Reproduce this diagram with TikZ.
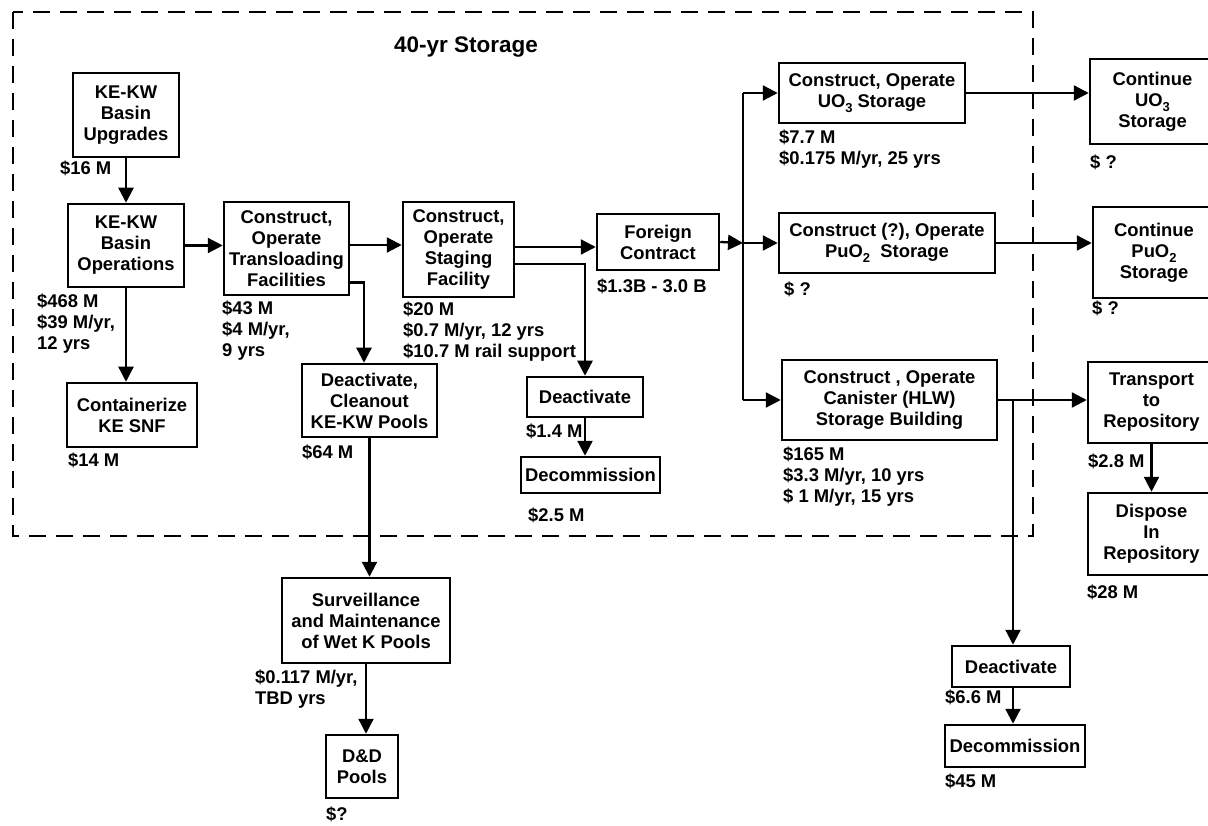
\documentclass[tikz,border=0pt]{standalone}
\usepackage{fontspec}
\setmainfont{Liberation Sans}
\usetikzlibrary{arrows.meta}
\newcommand\sbs[1]{\raisebox{-0.5ex}{\fontsize{13}{13}\selectfont #1}}
\begin{document}
\begin{tikzpicture}[x=1pt,y=-1pt,
  every node/.style={font=\fontsize{18.4}{21}\selectfont\bfseries},
  box/.style={draw, line width=2.5pt, align=center, inner sep=1pt},
  lbl/.style={anchor=north west, align=left, inner sep=0pt},
  arr/.style={line width=2.3pt, -{Triangle[length=15pt,width=15pt]}},
  ln/.style={line width=2.3pt},
  frame/.style={line width=2.6pt, dash pattern=on 17pt off 10pt}]
\useasboundingbox (0,0) rectangle (1208,826);
\fill[white] (0,0) rectangle (1208,826);

% dashed region
\draw[frame] (13,12) rectangle (1033,536);
\node[font=\fontsize{22.5}{26}\selectfont\bfseries] (title) at (466,47) {40-yr Storage};

% boxes
\node[box, minimum width=106pt, minimum height=84pt] (upg) at (126,115) {KE-KW\\Basin\\Upgrades};
\node[box, minimum width=116pt, minimum height=83pt] (ops) at (126,245.5) {KE-KW\\Basin\\Operations};
\node[box, minimum width=125pt, minimum height=93pt] (trans) at (286.5,248.5) {Construct,\\Operate\\Transloading\\Facilities};
\node[box, minimum width=111pt, minimum height=95pt] (stag) at (458.5,249.5) {Construct,\\Operate\\Staging\\Facility};
\node[box, minimum width=122pt, minimum height=56pt] (fc) at (658,242) {Foreign\\Contract};
\node[box, minimum width=130pt, minimum height=64pt] (cont) at (132,415) {Containerize\\KE SNF};
\node[box, minimum width=135pt, minimum height=73pt] (clean) at (369.5,400.5) {Deactivate,\\Cleanout\\KE-KW Pools};
\node[box, minimum width=116pt, minimum height=40pt] (deac1) at (585,397) {Deactivate};
\node[box, minimum width=139pt, minimum height=36pt] (decom1) at (590.5,475) {Decommission};
\node[box, minimum width=168pt, minimum height=85pt] (surv) at (366,620.5) {Surveillance\\and Maintenance\\of Wet K Pools};
\node[box, minimum width=72pt, minimum height=63pt] (dd) at (362,766.5) {D\&D\\Pools};
\node[box, minimum width=186pt, minimum height=60pt] (uo3) at (872,93) {Construct, Operate\\UO\sbs{3} Storage};
\node[box, minimum width=216pt, minimum height=60pt] (puo2) at (887,243) {Construct (?), Operate\\PuO\sbs{2}\ \ Storage};
\node[box, minimum width=215pt, minimum height=80pt] (hlw) at (889.5,400) {Construct , Operate\\Canister (HLW)\\Storage Building};
\node[box, minimum width=125pt, minimum height=85pt] (cuo3) at (1152.5,101.5) {Continue\\UO\sbs{3}\\Storage};
\node[box, minimum width=122pt, minimum height=91pt] (cpuo2) at (1154,252.5) {Continue\\PuO\sbs{2}\\Storage};
\node[box, minimum width=127pt, minimum height=81pt] (trp) at (1151.5,402.5) {Transport\\to\\Repository};
\node[box, minimum width=127pt, minimum height=82pt] (disp) at (1151.5,534) {Dispose\\In\\Repository};
\node[box, minimum width=118pt, minimum height=41pt] (deac2) at (1011,666.5) {Deactivate};
\node[box, minimum width=140pt, minimum height=42pt] (decom2) at (1015,746) {Decommission};

% junctions
\coordinate (jn) at (743,243);
\coordinate (jb) at (1013,400);

% connectors
\draw[arr] (upg.south) -- (ops.north);
\draw[arr] (ops.east) -- (ops.east -| trans.west);
\draw[arr] (ops.south) -- (ops.south |- cont.north);
\draw[arr] ([yshift=3.5pt]trans.east) -- ([yshift=3.5pt]trans.east -| stag.west);
\draw[arr] ([yshift=-34pt]trans.east) -| ([xshift=-5.5pt]clean.north);
\draw[arr] ([yshift=-5pt]fc.west -| stag.east) -- ([yshift=-5pt]fc.west);
\draw[arr] ([yshift=-14.5pt]stag.east) -| (deac1.north);
\draw[arr] (deac1.south) -- (deac1.south |- decom1.north);
\draw[arr] (clean.south) -- (clean.south |- surv.north);
\draw[arr] (surv.south) -- (surv.south |- dd.north);
\draw[arr] (fc.east) -- (jn);
\draw[ln] (jn |- uo3.west) -- (jn |- hlw.west);
\draw[arr] (jn |- uo3.west) -- (uo3.west);
\draw[arr] (jn) -- (jn -| puo2.west);
\draw[arr] (jn |- hlw.west) -- (hlw.west);
\draw[arr] (uo3.east) -- (uo3.east -| cuo3.west);
\draw[arr] (puo2.east) -- (puo2.east -| cpuo2.west);
\draw[arr] (hlw.east) -- (hlw.east -| trp.west);
\draw[arr] (jb) -- (jb |- deac2.north);
\draw[arr] (deac2.south -| jb) -- (jb |- decom2.north);
\draw[arr] (trp.south) -- (disp.north);

% cost labels
\node[lbl] (l1) at (60,161) {\$16 M};
\node[lbl] (l2) at (37,294) {\$468 M\\\$39 M/yr,\\12 yrs};
\node[lbl] (l3) at (68,453) {\$14 M};
\node[lbl] (l4) at (222,301) {\$43 M\\\$4 M/yr,\\9 yrs};
\node[lbl] (l5) at (403,302) {\$20 M\\\$0.7 M/yr, 12 yrs\\\$10.7 M rail support};
\node[lbl] (l6) at (302,445) {\$64 M};
\node[lbl] (l7) at (526,424) {\$1.4 M};
\node[lbl] (l8) at (528,508) {\$2.5 M};
\node[lbl] (l9) at (597,279) {\$1.3B - 3.0 B};
\node[lbl] (l10) at (779,130) {\$7.7 M\\\$0.175 M/yr, 25 yrs};
\node[lbl] (l11) at (784,282) {\$ ?};
\node[lbl] (l12) at (783,447) {\$165 M\\\$3.3 M/yr, 10 yrs\\\$ 1 M/yr, 15 yrs};
\node[lbl] (l13) at (1090,155) {\$ ?};
\node[lbl] (l14) at (1092,301) {\$ ?};
\node[lbl] (l15) at (1088,454) {\$2.8 M};
\node[lbl] (l16) at (1087,585) {\$28 M};
\node[lbl] (l17) at (255,670) {\$0.117 M/yr,\\TBD yrs};
\node[lbl] (l18) at (326,807) {\$?};
\node[lbl] (l19) at (945,690) {\$6.6 M};
\node[lbl] (l20) at (945,774) {\$45 M};
\end{tikzpicture}
\end{document}
